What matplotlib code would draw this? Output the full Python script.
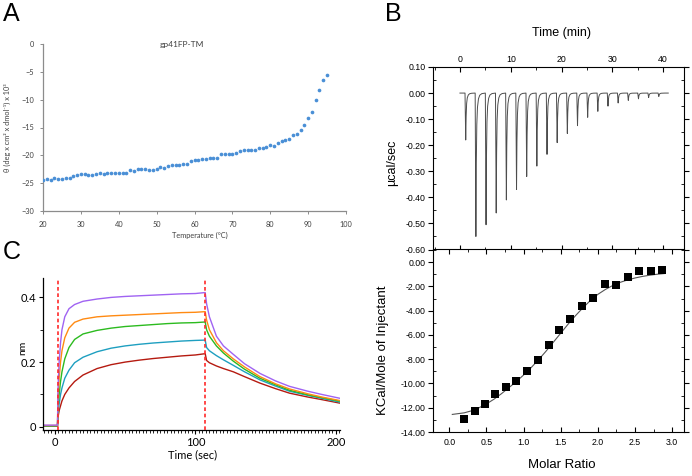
import numpy as np
import matplotlib
matplotlib.use("Agg")
import matplotlib.pyplot as plt
from matplotlib.ticker import MultipleLocator, FormatStrFormatter

# ---------------- Panel A data (CD thermal melt) ----------------
cd_temp = list(range(20, 96))
cd_theta = [-24.5, -24.2, -24.4, -24.0, -24.2, -24.2, -24.0, -24.1, -23.8, -23.6,
            -23.3, -23.3, -23.5, -23.5, -23.3, -23.2, -23.4, -23.2, -23.1, -23.2,
            -23.2, -23.2, -23.2, -22.7, -22.9, -22.5, -22.5, -22.5, -22.7, -22.6,
            -22.4, -22.1, -22.2, -22.0, -21.8, -21.7, -21.7, -21.6, -21.5, -21.0,
            -20.8, -20.8, -20.6, -20.6, -20.5, -20.5, -20.4, -19.8, -19.7, -19.7,
            -19.7, -19.6, -19.2, -19.0, -19.0, -19.0, -19.0, -18.6, -18.6, -18.5,
            -18.1, -18.3, -17.8, -17.5, -17.2, -17.0, -16.4, -16.2, -15.5, -14.6,
            -13.3, -12.2, -10.0, -8.2, -6.4, -5.5]

# ---------------- Panel B data (ITC) ----------------
inj_times = [1, 3, 5, 7, 9, 11, 13, 15, 17, 19, 21, 23, 25, 27, 29, 31, 33, 35, 37, 39]
inj_depths = [-0.18, -0.55, -0.505, -0.46, -0.41, -0.37, -0.32, -0.28, -0.235, -0.19,
              -0.155, -0.125, -0.093, -0.07, -0.05, -0.038, -0.028, -0.022, -0.017, -0.013]
# normalised peak profile (offset in min, fraction of depth)
peak_offsets = [0.0, 0.08, 0.14, 0.22, 0.32, 0.45, 0.65, 0.9, 1.3, 1.9]
peak_shape = [0.0, 0.6, 1.0, 0.5, 0.22, 0.1, 0.04, 0.015, 0.004, 0.0]

molar_ratio = [0.20, 0.34, 0.48, 0.62, 0.76, 0.90, 1.05, 1.19, 1.34, 1.48,
               1.63, 1.78, 1.94, 2.09, 2.24, 2.40, 2.56, 2.72, 2.87]
kcal_mole = [-12.95, -12.27, -11.70, -10.90, -10.32, -9.77, -9.00, -8.04, -6.86, -5.55,
             -4.69, -3.65, -2.94, -1.78, -1.84, -1.24, -0.69, -0.74, -0.66]
fit_x = [0.04, 0.2, 0.3, 0.4, 0.5, 0.6, 0.7, 0.8, 0.9, 1.0, 1.1, 1.2, 1.3, 1.4, 1.5,
         1.6, 1.7, 1.8, 1.9, 2.0, 2.1, 2.2, 2.3, 2.4, 2.5, 2.6, 2.7, 2.8, 2.9]
fit_y = [-12.55, -12.42, -12.25, -12.0, -11.68, -11.3, -10.85, -10.35, -9.85, -9.3,
         -8.7, -8.05, -7.35, -6.6, -5.85, -5.1, -4.4, -3.75, -3.15, -2.65, -2.25,
         -1.92, -1.66, -1.46, -1.3, -1.17, -1.07, -0.99, -0.93]

# ---------------- Panel C data (BLI) ----------------
bli_t = [-8.5, 1.8, 2.2, 3, 4, 5, 7, 10, 14, 20, 30, 40, 50, 60, 70, 80, 90, 100, 107,
         108, 110, 115, 120, 127, 135, 146, 157, 167, 180, 190, 203]
bli_purple = [0.005, 0.005, 0.12, 0.20, 0.26, 0.30, 0.34, 0.365, 0.378, 0.388, 0.395, 0.40,
              0.403, 0.405, 0.407, 0.409, 0.411, 0.412, 0.415,
              0.38, 0.34, 0.28, 0.25, 0.224, 0.195, 0.165, 0.142, 0.125, 0.11, 0.10, 0.088]
bli_orange = [0.004, 0.004, 0.09, 0.15, 0.20, 0.235, 0.275, 0.305, 0.323, 0.333, 0.34, 0.343,
              0.345, 0.347, 0.349, 0.351, 0.353, 0.354, 0.356,
              0.33, 0.30, 0.26, 0.235, 0.21, 0.185, 0.155, 0.133, 0.117, 0.102, 0.092, 0.081]
bli_green = [0.003, 0.003, 0.06, 0.10, 0.14, 0.17, 0.21, 0.245, 0.27, 0.287, 0.298, 0.305,
             0.31, 0.313, 0.316, 0.319, 0.321, 0.322, 0.324,
             0.30, 0.28, 0.25, 0.228, 0.203, 0.178, 0.15, 0.13, 0.113, 0.099, 0.09, 0.079]
bli_teal = [0.003, 0.003, 0.04, 0.07, 0.10, 0.12, 0.15, 0.175, 0.198, 0.215, 0.232, 0.243,
            0.25, 0.255, 0.259, 0.262, 0.265, 0.267, 0.268,
            0.245, 0.235, 0.22, 0.207, 0.19, 0.17, 0.145, 0.126, 0.11, 0.097, 0.088, 0.076]
bli_red = [0.002, 0.002, 0.03, 0.05, 0.065, 0.08, 0.10, 0.12, 0.14, 0.16, 0.18, 0.192,
           0.20, 0.206, 0.211, 0.215, 0.219, 0.222, 0.226,
           0.205, 0.198, 0.188, 0.18, 0.17, 0.155, 0.135, 0.118, 0.104, 0.092, 0.084, 0.073]
bli_events = [2.2, 107]

W, H = 692, 476
fig = plt.figure(figsize=(W / 100, H / 100), dpi=100)


def box(l, t, r, b):
    return [l / W, 1 - b / H, (r - l) / W, (b - t) / H]


# ================= Panel A =================
fA = ['Lato', 'DejaVu Sans']
axA = fig.add_axes(box(43, 44, 346, 211))
axA.scatter(cd_temp, cd_theta, s=7, color='#4a8fd6', linewidths=0, zorder=3)
axA.set_xlim(20, 100)
axA.set_ylim(-30, 0)
axA.set_xticks(range(20, 101, 10))
axA.set_yticks(range(-30, 1, 5))
for s in ['top', 'right']:
    axA.spines[s].set_visible(False)
for s in ['left', 'bottom']:
    axA.spines[s].set_color('#8c8c8c')
    axA.spines[s].set_linewidth(0.9)
axA.tick_params(which='both', direction='out', length=2.5, width=0.7, color='#8c8c8c',
                labelsize=5.3, labelcolor='#404040', pad=4)
axA.tick_params(axis='x', pad=5)
for lab in axA.get_xticklabels() + axA.get_yticklabels():
    lab.set_family(fA)
fig.text(182 / W, 1 - 44 / H, 'gp41FP-TM', ha='center', va='center', fontsize=6,
         family=fA, color='#404040')
fig.text(200 / W, 1 - 235 / H, 'Temperature (°C)', ha='center', va='center',
         fontsize=5.3, family=fA, color='#404040')
fig.text(7.5 / W, 1 - 128 / H, 'θ (deg x cm² x dmol⁻¹) x 10³', ha='center', va='center',
         rotation=90, fontsize=5.3, family=fA, color='#404040')

# ================= Panel B (top) =================
fB = ['Liberation Sans', 'DejaVu Sans']
axB1 = fig.add_axes(box(433, 67, 684, 249.5))
tr_t = [0.0]
tr_y = [0.0]
for ti, d in zip(inj_times, inj_depths):
    for o, s in zip(peak_offsets, peak_shape):
        tr_t.append(ti + o)
        tr_y.append(d * s)
tr_t.append(41.0)
tr_y.append(0.0)
axB1.plot(tr_t, tr_y, color='#4d4d4d', lw=0.7)
axB1.set_xlim(-5.3, 44.1)
axB1.set_ylim(-0.6, 0.1)
axB1.xaxis.set_major_locator(MultipleLocator(10))
axB1.xaxis.set_minor_locator(MultipleLocator(5))
axB1.yaxis.set_major_locator(MultipleLocator(0.1))
axB1.yaxis.set_minor_locator(MultipleLocator(0.05))
axB1.yaxis.set_major_formatter(FormatStrFormatter('%.2f'))
axB1.tick_params(axis='x', which='both', top=True, bottom=True, labeltop=True,
                 labelbottom=False, direction='in')
axB1.tick_params(axis='y', which='both', left=True, right=True, direction='in')
axB1.tick_params(axis='y', which='major', direction='out')
axB1.tick_params(which='major', length=3.5, width=0.8, labelsize=6.3, pad=2)
axB1.tick_params(which='minor', length=2, width=0.6)
for s in axB1.spines.values():
    s.set_linewidth(0.8)
for lab in axB1.get_xticklabels() + axB1.get_yticklabels():
    lab.set_family(fB)
fig.text(562 / W, 1 - 33 / H, 'Time (min)', ha='center', va='center', fontsize=9,
         family=fB)
fig.text(392 / W, 1 - 163 / H, 'µcal/sec', ha='center', va='center', rotation=90,
         fontsize=9, family=fB)

# ================= Panel B (bottom) =================
axB2 = fig.add_axes(box(433, 249.5, 684, 432))
axB2.plot(fit_x, fit_y, color='#555555', lw=0.8, zorder=2)
axB2.scatter(molar_ratio, kcal_mole, marker='s', s=30, color='black', linewidths=0,
             zorder=3)
axB2.set_xlim(-0.22, 3.16)
axB2.set_ylim(-14, 1.05)
axB2.xaxis.set_major_locator(MultipleLocator(0.5))
axB2.xaxis.set_minor_locator(MultipleLocator(0.25))
axB2.yaxis.set_major_locator(MultipleLocator(2))
axB2.yaxis.set_minor_locator(MultipleLocator(1))
axB2.xaxis.set_major_formatter(FormatStrFormatter('%.1f'))
axB2.yaxis.set_major_formatter(FormatStrFormatter('%.2f'))
axB2.tick_params(which='both', top=True, right=True, direction='in')
axB2.tick_params(axis='y', which='major', direction='out')
axB2.tick_params(which='major', length=3.5, width=0.8, labelsize=6.3, pad=2)
axB2.tick_params(which='minor', length=2, width=0.6)
axB2.tick_params(axis='x', pad=4)
for s in axB2.spines.values():
    s.set_linewidth(0.8)
for lab in axB2.get_xticklabels() + axB2.get_yticklabels():
    lab.set_family(fB)
fig.text(383 / W, 1 - 350 / H, 'KCal/Mole of Injectant', ha='center', va='center',
         rotation=90, fontsize=9.5, family=fB)
fig.text(562 / W, 1 - 465 / H, 'Molar Ratio', ha='center', va='center', fontsize=9.5,
         family=fB)

# ================= Panel C =================
axC = fig.add_axes(box(43, 278, 340, 430))
series = [(bli_red, '#b51a10'), (bli_teal, '#1e9fc0'), (bli_green, '#2cbb1f'),
          (bli_orange, '#ff8a12'), (bli_purple, '#a063f2')]
for vals, col in series:
    axC.plot(bli_t, vals, color=col, lw=1.0)
for ev in bli_events:
    axC.axvline(ev, color='#ff2a2a', lw=1.2, ls=(0, (2.2, 1.6)), zorder=4)
axC.set_xlim(-8.5, 203)
axC.set_ylim(-0.01, 0.46)
axC.set_xticks([0, 100, 200])
axC.xaxis.set_minor_locator(MultipleLocator(2.5))
axC.set_yticks([0, 0.2, 0.4])
axC.yaxis.set_minor_locator(MultipleLocator(0.1))
axC.set_yticklabels(['0', '0.2', '0.4'])
for s in ['top', 'right']:
    axC.spines[s].set_visible(False)
for s in ['left', 'bottom']:
    axC.spines[s].set_linewidth(0.9)
axC.tick_params(which='major', direction='out', length=3, width=0.8, labelsize=8, pad=2)
axC.tick_params(which='minor', direction='out', length=2, width=0.6)
for lab in axC.get_xticklabels() + axC.get_yticklabels():
    lab.set_family(fA)
fig.text(23 / W, 1 - 348 / H, 'nm', ha='center', va='center', rotation=90, fontsize=7.5,
         family=fA)
fig.text(193 / W, 1 - 455 / H, 'Time (sec)', ha='center', va='center', fontsize=8,
         family=fA)

# Panel letters
fig.text(3 / W, 1 - 2 / H, 'A', ha='left', va='top', fontsize=18, family=fB)
fig.text(385 / W, 1 - 2 / H, 'B', ha='left', va='top', fontsize=18, family=fB)
fig.text(3 / W, 1 - 240 / H, 'C', ha='left', va='top', fontsize=18, family=fB)

fig.savefig('out.png', dpi=100)
